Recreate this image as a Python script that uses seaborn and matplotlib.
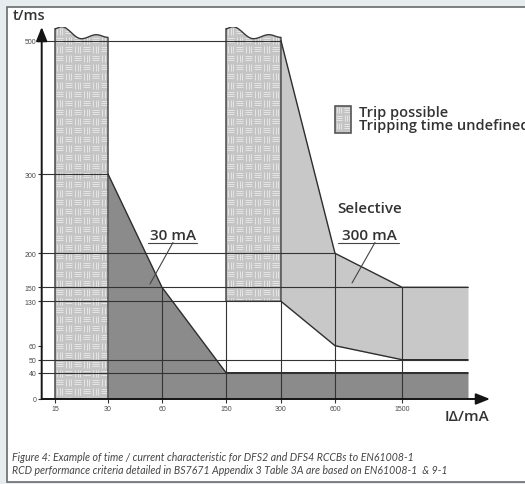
import numpy as np
import matplotlib
matplotlib.use('Agg')
import matplotlib.pyplot as plt
import seaborn as sns
from matplotlib.patches import Polygon, Rectangle
from matplotlib.collections import LineCollection
from matplotlib.transforms import IdentityTransform
from matplotlib.lines import Line2D
from matplotlib.ticker import NullLocator

# ── chart values ──
I_TICKS = [15, 30, 60, 150, 300, 600, 1500]          # mA
T_TICKS = [0, 40, 50, 60, 130, 150, 200, 300, 500]   # ms
I_END = 3000                                         # right end of the drawn zones

# 30 mA (general) characteristic
RCD30_I = [30, 60, 150, I_END]
RCD30_T = [300, 150, 40, 40]

# 300 mA selective band
SEL_I = [300, 600, 1500, I_END]
SEL_UPPER = [500, 200, 150, 150]
SEL_LOWER = [130, 60, 50, 50]

# "trip possible / time undefined" zones
ZONE_I = [(15, 30), (150, 300)]
ZONE_BOTTOM = [0, 130]
WAVE_U = [0, 0.12, 0.5, 0.78, 1.0]
WAVE_T = [518, 521, 503, 509, 505]

# reference lines
H_REF_T = [500, 300, 200, 150, 130, 50, 40]
H_REF_END = [300, 30, 600, I_END, 300, I_END, I_END]
V_REF_I = [60, 150, 300, 600, 1500]
V_REF_TOP = [150, 130, 130, 200, 150]

CAPTION = ["Figure 4: Example of time / current characteristic for DFS2 and DFS4 RCCBs to EN61008-1",
           "RCD performance criteria detailed in BS7671 Appendix 3 Table 3A are based on EN61008-1  & 9-1"]

# ── schematic (non-linear) axis scales: pixel offsets from the origin ──
X_KNOT_POS = [13.3, 66.3, 120.3, 184.3, 239.3, 293.3, 360.3, 426.3]
Y_KNOT_POS = [0, 26.3, 39.3, 53.3, 97.7, 111.7, 145.7, 225, 358.3]
AX_W, AX_H = 448.3, 372.0
W, H = 525, 485


def piecewise(kv, kp):
    kv = np.asarray(kv, float)
    kp = np.asarray(kp, float)

    def make(a, b):
        s0 = (b[1] - b[0]) / (a[1] - a[0])
        s1 = (b[-1] - b[-2]) / (a[-1] - a[-2])

        def f(v):
            v = np.asarray(v, float)
            out = np.interp(v, a, b)
            out = np.where(v < a[0], b[0] + (v - a[0]) * s0, out)
            out = np.where(v > a[-1], b[-1] + (v - a[-1]) * s1, out)
            return out
        return f
    return make(kv, kp), make(kp, kv)


fx, gx = piecewise(np.log10(I_TICKS + [I_END]), X_KNOT_POS)
fy, gy = piecewise(T_TICKS, Y_KNOT_POS)


def fwd_x(v):
    return fx(np.log10(np.clip(np.asarray(v, float), 1e-6, None)))


def inv_x(p):
    return 10 ** gx(p)


def cos_interp(u, ku, kv):
    ku = np.asarray(ku, float)
    kv = np.asarray(kv, float)
    idx = np.clip(np.searchsorted(ku, u, side='right') - 1, 0, len(ku) - 2)
    t = (u - ku[idx]) / (ku[idx + 1] - ku[idx])
    s = (1 - np.cos(np.pi * t)) / 2
    return kv[idx] + (kv[idx + 1] - kv[idx]) * s


def basket(ax, patch, cell=9.0, color='#e4e4e4', z=2.1):
    ext = patch.get_window_extent()
    segs = []
    for i, cx in enumerate(np.arange(ext.x0, ext.x1, cell)):
        for j, cy in enumerate(np.arange(ext.y1 - cell, ext.y0 - cell, -cell)):
            for k in (0.27, 0.5, 0.73):
                if (i + j) % 2 == 0:
                    segs.append([(cx + k * cell, cy + 0.1 * cell), (cx + k * cell, cy + 0.9 * cell)])
                else:
                    segs.append([(cx + 0.1 * cell, cy + k * cell), (cx + 0.9 * cell, cy + k * cell)])
    lc = LineCollection(segs, colors=color, linewidths=0.75,
                        transform=IdentityTransform(), zorder=z)
    ax.add_collection(lc, autolim=False)
    lc.set_clip_path(patch)


def P(x, y):
    return x / W, 1 - y / H


sns.set_theme(style='white')
plt.rcParams['font.family'] = ['Open Sans', 'DejaVu Sans']

fig = plt.figure(figsize=(W / 100, H / 100), dpi=100)
fig.patch.set_facecolor('#e7ecef')
fig.add_artist(Rectangle(P(7, 483), 1.0, (483 - 8) / H, transform=fig.transFigure,
                         facecolor='white', edgecolor='#6a6a6a', lw=1.2, zorder=-5))

ax = fig.add_axes([41.7 / W, (H - 400) / H, AX_W / W, AX_H / H])
ax.set_facecolor('none')
ax.set_xscale('function', functions=(fwd_x, inv_x))
ax.set_yscale('function', functions=(fy, gy))
x_lo, x_hi = float(inv_x(0)), float(inv_x(AX_W))
ax.set_xlim(x_lo, x_hi)
ax.set_ylim(float(gy(0)), float(gy(AX_H)))
for s in ax.spines.values():
    s.set_visible(False)

ax.set_xticks(I_TICKS, labels=[str(v) for v in I_TICKS])
ax.set_yticks(T_TICKS, labels=[str(v) for v in T_TICKS])
ax.xaxis.set_minor_locator(NullLocator())
ax.yaxis.set_minor_locator(NullLocator())
ax.tick_params(axis='both', length=3, width=0.8, color='#333333', labelsize=5.0,
               labelcolor='#4a4a4a', left=True, bottom=True, direction='out')
ax.tick_params(axis='x', pad=1.6)
ax.tick_params(axis='y', pad=1.0)
for lab in ax.get_xticklabels() + ax.get_yticklabels():
    lab.set_family(['Liberation Sans', 'DejaVu Sans'])

# filled zones
ax.fill_between(RCD30_I, 0, RCD30_T, color='#8b8b8b', lw=0, zorder=1)
ax.fill_between(SEL_I, SEL_LOWER, SEL_UPPER, color='#c8c8c8', lw=0, zorder=1)

# hatched "trip possible" zones
u = np.linspace(0, 1, 80)
top = cos_interp(u, WAVE_U, WAVE_T)
for (i0, i1), bottom in zip(ZONE_I, ZONE_BOTTOM):
    xs = i0 * (i1 / i0) ** u
    verts = [(i0, bottom), (i1, bottom)] + list(zip(xs[::-1], top[::-1]))
    face = Polygon(verts, closed=True, facecolor='#c4c4c4', edgecolor='none', zorder=2)
    ax.add_patch(face)
    basket(ax, face)
    ax.add_patch(Polygon(verts, closed=True, fill=False, edgecolor='#3a3a3a', lw=1.0, zorder=2.5))

# reference lines
ax.hlines(H_REF_T, x_lo, H_REF_END, colors='#333333', lw=0.8, zorder=3)
ax.vlines(V_REF_I, 0, V_REF_TOP, colors='#333333', lw=0.8, zorder=3)

# characteristic boundaries
sns.lineplot(x=RCD30_I, y=RCD30_T, ax=ax, color='#2e2e2e', lw=1.0, zorder=3.5,
             estimator=None, sort=False)
sns.lineplot(x=SEL_I, y=SEL_UPPER, ax=ax, color='#2e2e2e', lw=1.0, zorder=3.5,
             estimator=None, sort=False)
sns.lineplot(x=SEL_I, y=SEL_LOWER, ax=ax, color='#2e2e2e', lw=1.0, zorder=3.5,
             estimator=None, sort=False)

# axis arrows
arrow = dict(arrowstyle='-|>,head_length=0.6,head_width=0.24', color='#151515', lw=1.4,
             mutation_scale=14, shrinkA=0, shrinkB=0)
ax.annotate('', xy=(1, 0), xytext=(0, 0), xycoords='axes fraction', arrowprops=arrow,
            annotation_clip=False, zorder=5)
ax.annotate('', xy=(0, 1), xytext=(0, 0), xycoords='axes fraction', arrowprops=arrow,
            annotation_clip=False, zorder=5)

# texts
txt = dict(color='#333333', transform=fig.transFigure, va='baseline')
fig.text(*P(13, 20.5), 't/ms', fontsize=10.5, fontweight='semibold', ha='left', **txt)
fig.text(*P(445, 421.5), 'IΔ/mA', fontsize=11, fontweight='semibold', ha='left', **txt)
fig.text(*P(150, 240.5), '30 mA', fontsize=11, fontweight='semibold', ha='left', **txt)
fig.text(*P(337, 213), 'Selective', fontsize=11, fontweight='semibold', ha='left', **txt)
fig.text(*P(342, 240.5), '300 mA', fontsize=11, fontweight='semibold', ha='left', **txt)
fig.text(*P(359, 117.5), 'Trip possible', fontsize=10.5, fontweight='semibold', ha='left', **txt)
fig.text(*P(359, 130.5), 'Tripping time undefined', fontsize=10.5, fontweight='semibold',
         ha='left', **txt)

# underlines and leaders
for (xa, xb, lx0, ly0, lx1, ly1) in [(148, 197, 173, 243.5, 150, 285),
                                      (338, 399, 375, 243.5, 352, 284)]:
    for seg in [((xa, 243.5), (xb, 243.5)), ((lx0, ly0), (lx1, ly1))]:
        (a, b), (c, d) = P(*seg[0]), P(*seg[1])
        fig.add_artist(Line2D([a, c], [b, d], color='#444444', lw=0.8,
                              transform=fig.transFigure))

# legend swatch
sw = Rectangle(P(335, 134), 16 / W, 27 / H, transform=fig.transFigure,
               facecolor='#c4c4c4', edgecolor='none', zorder=2)
ax.add_patch(sw)
basket(ax, sw, cell=8.0)
ax.add_patch(Rectangle(P(335, 134), 16 / W, 27 / H, transform=fig.transFigure,
                       fill=False, edgecolor='#555555', lw=1.2, zorder=2.5))

# caption
for k, line in enumerate(CAPTION):
    fig.text(*P(12.5, 461 + k * 13), line, fontsize=7.6, style='italic', color='#454545',
             family=['Lato', 'DejaVu Sans'], ha='left', va='baseline')

fig.savefig('out.png', dpi=100, facecolor=fig.get_facecolor())
